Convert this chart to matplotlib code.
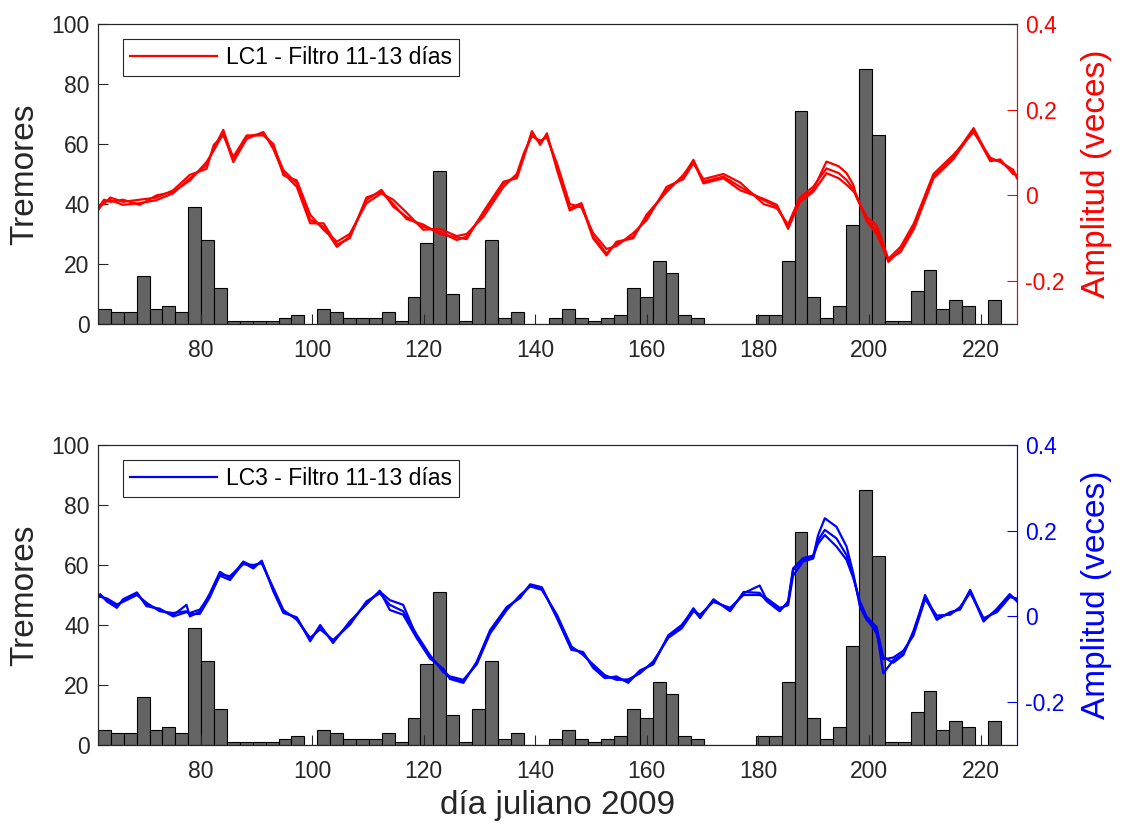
import numpy as np
import matplotlib
matplotlib.use('Agg')
import matplotlib.pyplot as plt

plt.rcParams['font.family'] = ['Liberation Sans', 'DejaVu Sans']
plt.rcParams['axes.unicode_minus'] = False

# tremor counts per bin (histogram, same in both panels)
bin_start = 61.5
bin_w = 2.316
tremores = [5, 4, 4, 16, 5, 6, 4, 39, 28, 12,
            1, 1, 1, 1, 2, 3, 0, 5, 4, 2,
            2, 2, 4, 1, 9, 27, 51, 10, 1, 12,
            28, 2, 4, 0, 0, 2, 5, 2, 1, 2,
            3, 12, 9, 21, 17, 3, 2, 0, 0, 0,
            0, 3, 3, 21, 71, 9, 2, 6, 33, 85,
            63, 1, 1, 11, 18, 5, 8, 6, 0, 8, 0]

# LC1 filtered amplitude (three overlapping traces)
x_red = [61.5, 62.6, 63.7, 66.0, 69.0, 72.0, 75.0, 78.0, 81.0, 82.3,
         84.0, 85.8, 88.2, 91.2, 93.0, 94.8, 97.2, 99.6, 102.0, 104.4,
         106.7, 109.7, 112.4, 114.5, 116.9, 119.9, 122.9, 125.9, 127.7, 130.7,
         134.3, 136.7, 138.0, 139.4, 140.9, 142.1, 143.9, 146.2, 148.3, 150.4,
         152.8, 154.6, 157.6, 160.0, 163.6, 166.6, 168.4, 170.2, 173.8, 176.8,
         181.0, 183.4, 185.4, 187.5, 189.9, 192.3, 194.5, 195.9, 197.1, 197.7,
         199.5, 201.3, 203.4, 205.6, 208.0, 211.5, 215.1, 218.7, 221.7, 223.5,
         225.8, 226.5]
red_a = [-0.035, -0.015, -0.011, -0.022, -0.018, -0.011, 0.005, 0.040, 0.071, 0.110,
         0.153, 0.083, 0.137, 0.145, 0.114, 0.059, 0.028, -0.057, -0.073, -0.120,
         -0.096, -0.011, 0.013, -0.026, -0.050, -0.073, -0.085, -0.104, -0.096, -0.042,
         0.028, 0.045, 0.095, 0.145, 0.122, 0.141, 0.067, -0.030, -0.018, -0.096,
         -0.135, -0.112, -0.096, -0.050, 0.013, 0.044, 0.083, 0.032, 0.044, 0.020,
         -0.011, -0.026, -0.073, -0.011, 0.013, 0.079, 0.068, 0.052, 0.025, -0.003,
         -0.057, -0.081, -0.155, -0.127, -0.073, 0.044, 0.090, 0.157, 0.083, 0.080,
         0.055, 0.045]
red_b = [-0.025, -0.020, -0.005, -0.015, -0.010, -0.005, 0.012, 0.048, 0.062, 0.118,
         0.140, 0.090, 0.140, 0.140, 0.120, 0.047, 0.035, -0.045, -0.080, -0.108,
         -0.090, -0.018, 0.005, -0.010, -0.040, -0.080, -0.078, -0.095, -0.090, -0.050,
         0.020, 0.050, 0.100, 0.138, 0.128, 0.135, 0.075, -0.020, -0.028, -0.088,
         -0.125, -0.118, -0.088, -0.058, 0.020, 0.038, 0.075, 0.038, 0.050, 0.030,
         -0.020, -0.030, -0.068, -0.005, 0.020, 0.063, 0.052, 0.036, 0.015, -0.005,
         -0.050, -0.070, -0.148, -0.120, -0.065, 0.050, 0.095, 0.148, 0.088, 0.078,
         0.060, 0.040]
red_c = [-0.030, -0.010, -0.015, -0.010, -0.022, 0.000, 0.008, 0.035, 0.078, 0.105,
         0.145, 0.078, 0.132, 0.148, 0.108, 0.052, 0.020, -0.065, -0.065, -0.115,
         -0.100, -0.005, 0.008, -0.020, -0.055, -0.068, -0.090, -0.098, -0.102, -0.038,
         0.032, 0.040, 0.090, 0.150, 0.118, 0.145, 0.060, -0.035, -0.022, -0.100,
         -0.140, -0.108, -0.100, -0.045, 0.008, 0.048, 0.080, 0.028, 0.040, 0.012,
         -0.008, -0.022, -0.078, -0.015, 0.008, 0.052, 0.040, 0.025, 0.010, 0.000,
         -0.060, -0.090, -0.150, -0.132, -0.078, 0.040, 0.085, 0.152, 0.080, 0.084,
         0.050, 0.048]

# LC3 filtered amplitude (three overlapping traces)
x_blue = [61.5, 61.9, 63.1, 64.9, 66.0, 68.5, 70.2, 72.6, 75.0, 77.4,
          78.0, 79.8, 81.6, 83.4, 85.2, 87.6, 89.4, 90.9, 93.0, 94.8,
          97.2, 99.6, 101.4, 103.7, 106.7, 109.7, 112.1, 113.9, 116.3, 118.7,
          121.1, 123.5, 124.7, 127.1, 129.5, 131.9, 134.9, 137.3, 139.1, 141.2,
          143.9, 146.5, 148.6, 150.4, 152.5, 154.6, 156.7, 158.8, 161.2, 163.9,
          166.3, 168.4, 169.6, 172.0, 175.0, 177.4, 180.3, 181.6, 183.9, 185.4,
          186.3, 188.1, 189.9, 190.8, 192.0, 194.1, 195.9, 197.1, 198.3, 199.5,
          201.3, 202.5, 204.3, 206.1, 207.9, 210.0, 212.1, 214.5, 216.3, 218.1,
          220.5, 222.9, 225.2, 226.5]
blue_a = [0.045, 0.050, 0.038, 0.023, 0.038, 0.054, 0.027, 0.015, 0.003, 0.027,
          0.000, 0.011, 0.054, 0.104, 0.089, 0.128, 0.116, 0.128, 0.062, 0.011,
          -0.004, -0.055, -0.024, -0.059, -0.016, 0.031, 0.058, 0.038, 0.027, -0.047,
          -0.094, -0.125, -0.144, -0.152, -0.109, -0.036, 0.019, 0.046, 0.073, 0.066,
          -0.001, -0.074, -0.086, -0.117, -0.141, -0.144, -0.152, -0.129, -0.109, -0.047,
          -0.024, 0.019, -0.001, 0.038, 0.015, 0.054, 0.072, 0.038, 0.015, 0.031,
          0.108, 0.132, 0.139, 0.190, 0.229, 0.209, 0.163, 0.101, 0.023, -0.008,
          -0.032, -0.133, -0.102, -0.086, -0.039, 0.050, -0.004, 0.007, 0.019, 0.062,
          -0.008, 0.015, 0.050, 0.038]
blue_b = [0.048, 0.046, 0.042, 0.028, 0.034, 0.050, 0.032, 0.012, 0.008, 0.012,
          0.005, 0.006, 0.045, 0.098, 0.094, 0.122, 0.120, 0.124, 0.066, 0.015,
          -0.008, -0.050, -0.030, -0.055, -0.020, 0.035, 0.054, 0.027, 0.012, -0.042,
          -0.090, -0.130, -0.140, -0.148, -0.112, -0.040, 0.015, 0.050, 0.070, 0.062,
          0.004, -0.070, -0.090, -0.112, -0.137, -0.148, -0.147, -0.133, -0.105, -0.050,
          -0.028, 0.012, 0.004, 0.034, 0.020, 0.050, 0.050, 0.042, 0.020, 0.026,
          0.095, 0.128, 0.135, 0.178, 0.202, 0.182, 0.143, 0.095, 0.030, -0.004,
          -0.040, -0.100, -0.096, -0.080, -0.045, 0.040, 0.002, 0.004, 0.022, 0.055,
          -0.004, 0.010, 0.045, 0.042]
blue_c = [0.042, 0.052, 0.035, 0.020, 0.040, 0.056, 0.024, 0.018, 0.000, 0.010,
          0.008, 0.016, 0.050, 0.095, 0.085, 0.125, 0.112, 0.130, 0.058, 0.008,
          -0.002, -0.058, -0.020, -0.062, -0.012, 0.028, 0.060, 0.015, 0.004, -0.050,
          -0.098, -0.122, -0.146, -0.155, -0.106, -0.032, 0.022, 0.043, 0.075, 0.068,
          -0.004, -0.078, -0.083, -0.120, -0.144, -0.140, -0.155, -0.126, -0.112, -0.044,
          -0.020, 0.016, -0.004, 0.040, 0.012, 0.057, 0.055, 0.035, 0.012, 0.035,
          0.112, 0.136, 0.142, 0.170, 0.190, 0.163, 0.132, 0.090, 0.035, 0.000,
          -0.025, -0.095, -0.108, -0.090, -0.034, 0.045, -0.008, 0.010, 0.016, 0.060,
          -0.012, 0.018, 0.052, 0.035]

x_ticks = [80, 100, 120, 140, 160, 180, 200, 220]
trem_ticks = [0, 20, 40, 60, 80, 100]
amp_ticks = [-0.2, 0, 0.2, 0.4]
amp_labels = ['-0.2', '0', '0.2', '0.4']

dark = '#262626'
fig = plt.figure(figsize=(11.22, 8.25), dpi=100)

panels = [
    (0.6073, x_red, [red_a, red_b, red_c], (1, 0, 0), 'LC1 - Filtro 11-13 días'),
    (0.0970, x_blue, [blue_a, blue_b, blue_c], (0, 0, 1), 'LC3 - Filtro 11-13 días'),
]

edges = bin_start + bin_w * np.arange(len(tremores))

for bottom, xs, traces, col, lab in panels:
    ax = fig.add_axes([0.0873, bottom, 0.8191, 0.3636])
    ax.bar(edges, tremores, width=bin_w, align='edge', color='#646464',
           edgecolor='black', linewidth=0.8)
    ax.set_xlim(61.5, 226.5)
    ax.set_ylim(0, 100)
    ax.set_xticks(x_ticks)
    ax.set_yticks(trem_ticks)
    ax.tick_params(direction='in', length=7, width=0.8, labelsize=16.5, colors=dark)
    ax.tick_params(axis='x', pad=11)
    ax.tick_params(axis='y', pad=6)
    for s in ax.spines.values():
        s.set_color(dark)
        s.set_linewidth(0.8)
    ax.set_ylabel('Tremores', fontsize=24, color=dark, va='center', ha='center')
    ax.yaxis.set_label_coords(-0.0794, 0.5)

    ax2 = ax.twinx()
    lines = []
    for ys in traces:
        ln, = ax2.plot(xs, ys, color=col, lw=1.6)
        lines.append(ln)
    ax2.set_xlim(61.5, 226.5)
    ax2.set_ylim(-0.3, 0.4)
    ax2.set_yticks(amp_ticks)
    ax2.set_yticklabels(amp_labels)
    ax2.tick_params(direction='in', length=7, width=0.8, labelsize=16.5, colors=col, pad=6)
    for name, s in ax2.spines.items():
        s.set_linewidth(0.8)
        s.set_color(col if name == 'right' else dark)
    ax2.set_ylabel('Amplitud (veces)', fontsize=24, color=col, rotation=90,
                   va='center', ha='center')
    ax2.yaxis.set_label_coords(1.087, 0.5)

    leg = ax2.legend([lines[0]], [lab], loc='upper left', bbox_to_anchor=(0.0269, 0.949),
                     borderaxespad=0, fontsize=16.5, handlelength=3.8, handletextpad=0.4,
                     borderpad=0.3, fancybox=False, framealpha=1, edgecolor=dark)
    leg.get_frame().set_linewidth(0.8)

    if bottom < 0.5:
        ax.set_xlabel('día juliano 2009', fontsize=24, color=dark, va='center')
        ax.xaxis.set_label_coords(0.5, -(806 - 745) / 300)

fig.savefig('out.png', dpi=100)
